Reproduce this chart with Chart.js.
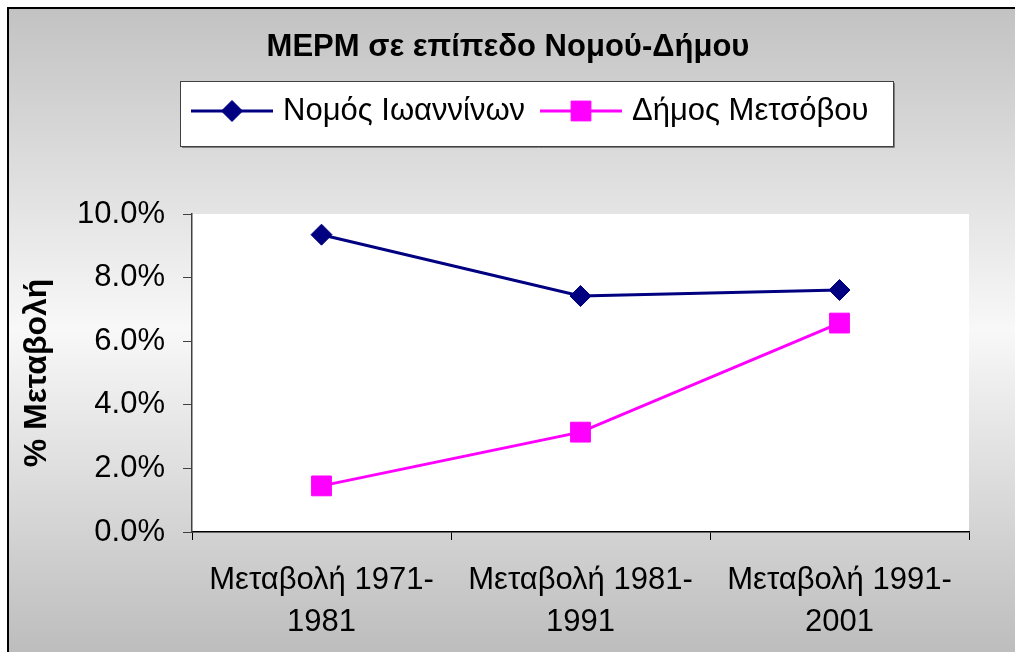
<!DOCTYPE html>
<html><head><meta charset="utf-8">
<script src="https://cdn.jsdelivr.net/npm/chart.js@4.4.0/dist/chart.umd.min.js"></script>
<style>html,body{margin:0;padding:0;background:#fff;overflow:hidden}#wrap{width:1015px;height:652px;position:relative}</style>
</head><body><div id="wrap"><canvas id="c" width="1015" height="652"></canvas></div>
<script>
const chartTitle = 'ΜΕΡΜ σε επίπεδο Νομού-Δήμου';
const yAxisTitle = '% Μεταβολή';
const categories = [['Μεταβολή 1971-', '1981'], ['Μεταβολή 1981-', '1991'], ['Μεταβολή 1991-', '2001']];
const seriesNames = ['Νομός Ιωαννίνων', 'Δήμος Μετσόβου'];
const nomosValues = [9.35, 7.42, 7.61];
const dimosValues = [1.45, 3.14, 6.57];
const yMin = 0, yMax = 10, yStep = 2;

const FONT = '"Liberation Sans", Arial, sans-serif';

const bgPlugin = {
  id: 'bg',
  beforeDraw(chart) {
    const ctx = chart.ctx, W = chart.width, H = chart.height;
    ctx.save();
    ctx.fillStyle = '#ffffff';
    ctx.fillRect(0, 0, W, H);
    const g = ctx.createLinearGradient(0, 7, 0, H);
    g.addColorStop(0, '#c2c2c2');
    g.addColorStop(0.5, '#f8f8f8');
    g.addColorStop(1, '#bdbdbd');
    ctx.fillStyle = g;
    ctx.fillRect(7, 7, W - 7, H - 7);
    ctx.strokeStyle = '#000';
    ctx.lineWidth = 2;
    ctx.beginPath();
    ctx.moveTo(8, H); ctx.lineTo(8, 8); ctx.lineTo(W, 8);
    ctx.stroke();
    const a = chart.chartArea;
    ctx.fillStyle = '#ffffff';
    ctx.fillRect(a.left, a.top, a.right - a.left, a.bottom - a.top);
    ctx.restore();
  }
};

function drawMarker(ctx, style, x, y, r, fill, stroke) {
  ctx.beginPath();
  if (style === 'rectRot') {
    ctx.moveTo(x - r, y); ctx.lineTo(x, y - r); ctx.lineTo(x + r, y); ctx.lineTo(x, y + r);
  } else {
    const s = Math.SQRT1_2 * r;
    ctx.rect(x - s, y - s, 2 * s, 2 * s);
  }
  ctx.closePath();
  ctx.fillStyle = fill; ctx.fill();
  ctx.strokeStyle = stroke; ctx.lineWidth = 1; ctx.stroke();
}

const annoPlugin = {
  id: 'anno',
  afterDraw(chart) {
    const ctx = chart.ctx;
    ctx.save();
    // title
    ctx.fillStyle = '#000';
    ctx.font = 'bold 31px ' + FONT;
    ctx.textAlign = 'center';
    ctx.textBaseline = 'middle';
    ctx.fillText(chartTitle, 508, 47);
    // legend box
    ctx.fillStyle = '#ffffff';
    ctx.fillRect(181, 82, 712, 64);
    ctx.strokeStyle = '#404040';
    ctx.lineWidth = 1;
    ctx.strokeRect(180.5, 81.5, 713, 65);
    ctx.strokeStyle = '#808080';
    ctx.beginPath(); ctx.moveTo(182, 147.5); ctx.lineTo(894.5, 147.5); ctx.lineTo(894.5, 83); ctx.stroke();
    const starts = [191, 540];
    chart.data.datasets.forEach((ds, i) => {
      const x0 = starts[i], y = 111;
      ctx.strokeStyle = ds.borderColor;
      ctx.lineWidth = 3;
      ctx.beginPath(); ctx.moveTo(x0, y); ctx.lineTo(x0 + 82, y); ctx.stroke();
      drawMarker(ctx, ds.pointStyle, x0 + 41, y, ds.pointRadius, ds.pointBackgroundColor, ds.pointBorderColor);
      ctx.fillStyle = '#000';
      ctx.font = '31px ' + FONT;
      ctx.textAlign = 'left';
      ctx.textBaseline = 'middle';
      ctx.fillText(ds.label, x0 + 92, y);
    });
    ctx.restore();
  }
};

new Chart(document.getElementById('c'), {
  type: 'line',
  data: {
    labels: categories,
    datasets: [
      {
        label: seriesNames[0], data: nomosValues,
        borderColor: '#000080', backgroundColor: '#000080', borderWidth: 3,
        pointStyle: 'rectRot', pointRadius: 10.5, pointHoverRadius: 10.5,
        pointBackgroundColor: '#000080', pointBorderColor: '#000080', pointBorderWidth: 1,
        tension: 0, fill: false
      },
      {
        label: seriesNames[1], data: dimosValues,
        borderColor: '#ff00ff', backgroundColor: '#ff00ff', borderWidth: 3,
        pointStyle: 'rect', pointRadius: 14, pointHoverRadius: 14,
        pointBackgroundColor: '#ff00ff', pointBorderColor: '#ff00ff', pointBorderWidth: 1,
        tension: 0, fill: false
      }
    ]
  },
  options: {
    responsive: false,
    animation: false,
    devicePixelRatio: 1,
    layout: { padding: { left: 0, right: 46, top: 214, bottom: 0 } },
    plugins: { legend: { display: false }, title: { display: false }, tooltip: { enabled: false } },
    scales: {
      x: {
        type: 'category',
        offset: true,
        afterFit(scale) { scale.height = 120; },
        grid: { display: true, drawOnChartArea: false, drawTicks: true, tickLength: 8, color: '#000', offset: true },
        border: { display: true, color: '#000', width: 1.5 },
        ticks: { color: '#000', font: { family: FONT, size: 31, lineHeight: 1.35 }, padding: 20, maxRotation: 0, autoSkip: false }
      },
      y: {
        min: yMin, max: yMax,
        afterFit(scale) { scale.width = 192; },
        grid: { display: true, drawOnChartArea: false, drawTicks: true, tickLength: 9, color: '#404040' },
        border: { display: true, color: '#404040', width: 1.5 },
        ticks: { stepSize: yStep, color: '#000', font: { family: FONT, size: 31 }, padding: 18,
                 callback: v => v.toFixed(1) + '%' },
        title: { display: true, text: yAxisTitle, color: '#000', font: { family: FONT, size: 32, weight: 'bold', lineHeight: 1 }, padding: { top: 21, bottom: 0 } }
      }
    }
  },
  plugins: [bgPlugin, annoPlugin]
});
</script></body></html>
